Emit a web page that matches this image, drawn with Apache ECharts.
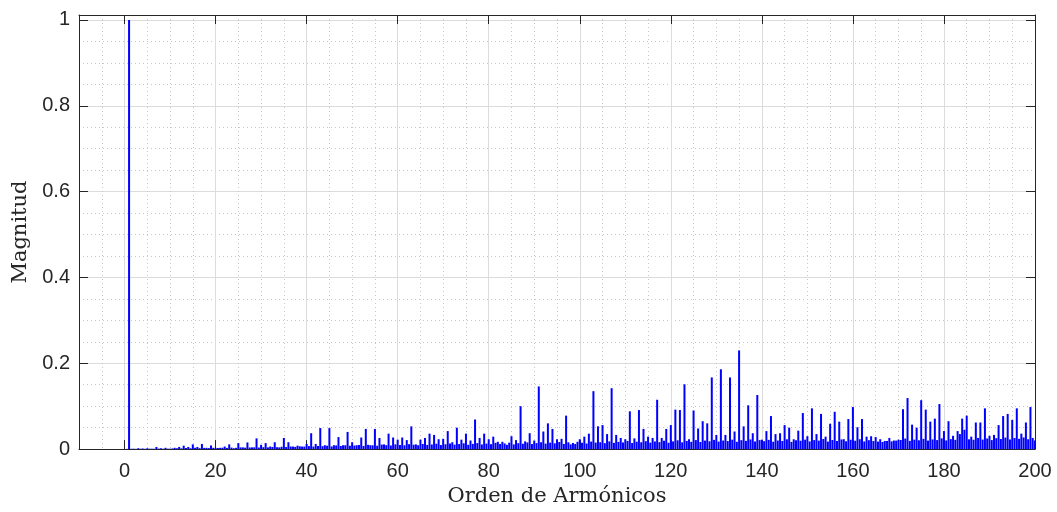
<!DOCTYPE html>
<html>
<head>
<meta charset="utf-8">
<script src="https://cdn.jsdelivr.net/npm/echarts@6/dist/echarts.min.js"></script>
<style>
html,body{margin:0;padding:0;background:#fff;}
#chart{width:1057px;height:512px;}
</style>
</head>
<body>
<div id="chart"></div>
<script>
// Magnitude at integer harmonic orders 0..200
const harmonicMag = [
 0, 1.0, 0.001, 0.002, 0.0015, 0.002, 0.001, 0.005, 0.002, 0.003,
 0.001, 0.003, 0.005, 0.008, 0.005, 0.011, 0.005, 0.012, 0.003, 0.0085,
 0.003, 0.003, 0.006, 0.011, 0.002, 0.014, 0.004, 0.0155, 0.004, 0.025,
 0.010, 0.014, 0.006, 0.016, 0.004, 0.026, 0.016, 0.006, 0.008, 0.006,
 0.012, 0.037, 0.012, 0.049, 0.009, 0.049, 0.009, 0.028, 0.009, 0.040,
 0.016, 0.009, 0.027, 0.047, 0.009, 0.047, 0.026, 0.011, 0.036, 0.027,
 0.022, 0.027, 0.021, 0.053, 0.011, 0.022, 0.026, 0.036, 0.033, 0.023,
 0.024, 0.042, 0.016, 0.050, 0.022, 0.036, 0.020, 0.069, 0.026, 0.036,
 0.023, 0.029, 0.017, 0.017, 0.010, 0.030, 0.021, 0.100, 0.018, 0.037,
 0.020, 0.146, 0.041, 0.060, 0.047, 0.023, 0.024, 0.078, 0.011, 0.012,
 0.023, 0.029, 0.036, 0.135, 0.053, 0.056, 0.035, 0.142, 0.033, 0.026,
 0.023, 0.088, 0.025, 0.091, 0.047, 0.029, 0.026, 0.115, 0.026, 0.047,
 0.056, 0.092, 0.091, 0.151, 0.023, 0.090, 0.048, 0.065, 0.060, 0.167,
 0.033, 0.186, 0.033, 0.167, 0.041, 0.230, 0.053, 0.102, 0.037, 0.126,
 0.022, 0.042, 0.077, 0.035, 0.037, 0.056, 0.050, 0.023, 0.043, 0.084,
 0.030, 0.095, 0.035, 0.082, 0.029, 0.059, 0.087, 0.064, 0.023, 0.070,
 0.098, 0.051, 0.070, 0.029, 0.030, 0.028, 0.023, 0.019, 0.026, 0.020,
 0.022, 0.093, 0.119, 0.057, 0.050, 0.114, 0.092, 0.064, 0.071, 0.105,
 0.042, 0.065, 0.031, 0.042, 0.071, 0.078, 0.029, 0.062, 0.062, 0.095,
 0.031, 0.033, 0.056, 0.077, 0.082, 0.068, 0.095, 0.036, 0.062, 0.098,
 0.020
];
// Magnitude of inter-harmonic content at orders 0.5, 1.5, ..., 199.5
const interMag = [
 0.0005,0.0008,0.0006,0.0009,0.0007,0.001,0.0008,0.0012,0.0009,0.0011,
 0.0015,0.002,0.0018,0.0025,0.002,0.003,0.0022,0.0028,0.0024,0.003,
 0.0026,0.0032,0.0028,0.0035,0.003,0.004,0.0034,0.0038,0.0042,0.0036,
 0.0045,0.004,0.005,0.0044,0.0055,0.0048,0.006,0.0052,0.0065,0.0058,
 0.007,0.006,0.0075,0.0068,0.008,0.0062,0.0085,0.0072,0.009,0.0078,
 0.0082,0.0095,0.0074,0.01,0.0088,0.0079,0.0105,0.0092,0.0084,0.011,
 0.0096,0.0088,0.0115,0.0102,0.009,0.012,0.0098,0.0108,0.0125,0.0094,
 0.0112,0.013,0.0104,0.0118,0.0135,0.01,0.0122,0.014,0.0108,0.0128,
 0.0115,0.0145,0.012,0.0132,0.015,0.011,0.0138,0.0125,0.0155,0.0118,
 0.014,0.016,0.0128,0.015,0.0135,0.0165,0.012,0.0158,0.0142,0.017,
 0.0148,0.013,0.0175,0.0152,0.016,0.0138,0.018,0.0145,0.0168,0.0155,
 0.019,0.0142,0.0172,0.016,0.0185,0.015,0.0178,0.0162,0.0195,0.0148,
 0.018,0.0205,0.0158,0.019,0.017,0.021,0.0165,0.0198,0.0182,0.0215,
 0.0175,0.02,0.0188,0.022,0.017,0.0208,0.0192,0.0225,0.0178,0.021,
 0.0185,0.0215,0.0172,0.02,0.019,0.0228,0.0168,0.0205,0.0195,0.022,
 0.018,0.021,0.0198,0.0235,0.0175,0.0212,0.019,0.0225,0.0182,0.0218,
 0.0195,0.023,0.0178,0.0208,0.0188,0.0175,0.0165,0.019,0.018,0.0198,
 0.0212,0.0245,0.0192,0.022,0.0205,0.0238,0.0198,0.0225,0.021,0.025,
 0.0202,0.0232,0.0215,0.035,0.045,0.0228,0.0218,0.026,0.0222,0.0248,
 0.021,0.0255,0.0235,0.0268,0.0225,0.0258,0.024,0.0272,0.023,0.026
];
const xTickValues = [0, 20, 40, 60, 80, 100, 120, 140, 160, 180, 200];
const yTickValues = [0, 0.2, 0.4, 0.6, 0.8, 1];
const xLabel = 'Orden de Armónicos';
const yLabel = 'Magnitud';

const data = [];
harmonicMag.forEach((v, i) => data.push([i, v]));
interMag.forEach((v, i) => data.push([i + 0.5, v]));

const AX = '#262626';
const MAJ = '#dcdcdc';
const MIN = '#c8c8c8';
const T = 'rgba(0,0,0,0)';
const X_MIN = -10, X_MAX = 200, Y_MIN = 0, Y_MAX = 1.0116;
const tickFont = {fontFamily: '"Liberation Sans", Arial, sans-serif', fontSize: 20, color: AX};

function xAxisBase(extra) {
  return Object.assign({type: 'value', min: X_MIN, max: X_MAX, interval: 5, gridIndex: 0,
    axisLine: {show: false}, axisTick: {show: false}, axisLabel: {show: false}, splitLine: {show: false}}, extra);
}
function yAxisBase(extra) {
  return Object.assign({type: 'value', min: Y_MIN, max: Y_MAX, interval: 0.05, gridIndex: 0,
    axisLine: {show: false}, axisTick: {show: false}, axisLabel: {show: false}, splitLine: {show: false}}, extra);
}

const chart = echarts.init(document.getElementById('chart'), null, {renderer: 'canvas'});
chart.setOption({
  animation: false,
  backgroundColor: '#fff',
  grid: {left: 79, right: 22, top: 15, bottom: 62, containLabel: false},
  xAxis: [
    xAxisBase({position: 'bottom',
      axisLine: {show: true, onZero: false, lineStyle: {color: AX, width: 1}},
      axisTick: {show: true, inside: true, length: 9, customValues: xTickValues, lineStyle: {color: AX}},
      axisLabel: Object.assign({show: true, margin: 12, customValues: xTickValues,
        formatter: v => String(v)}, tickFont),
      name: xLabel, nameLocation: 'middle', nameGap: 35,
      nameTextStyle: {fontFamily: '"DejaVu Serif", serif', fontSize: 21, color: AX}
    }),
    xAxisBase({position: 'top',
      axisLine: {show: true, onZero: false, lineStyle: {color: AX, width: 1}},
      axisTick: {show: true, inside: true, length: 9, customValues: xTickValues, lineStyle: {color: AX}}
    }),
    xAxisBase({position: 'bottom',
      splitLine: {show: true, lineStyle: {type: [1, 3], color: [MIN, MIN, T, MIN], width: 1}}}),
    xAxisBase({position: 'bottom',
      splitLine: {show: true, lineStyle: {type: 'solid', color: [T, T, MAJ, T], width: 1}}})
  ],
  yAxis: [
    yAxisBase({position: 'left', interval: 0.2,
      axisLine: {show: true, onZero: false, lineStyle: {color: AX, width: 1}},
      axisTick: {show: true, inside: true, length: 9, customValues: yTickValues, lineStyle: {color: AX}},
      axisLabel: Object.assign({show: true, margin: 9, customValues: yTickValues,
        formatter: v => String(Math.round(v * 10) / 10)}, tickFont),
      name: yLabel, nameLocation: 'middle', nameGap: 46,
      nameTextStyle: {fontFamily: '"DejaVu Serif", serif', fontSize: 21, color: AX}
    }),
    yAxisBase({position: 'right', interval: 0.2,
      axisLine: {show: true, onZero: false, lineStyle: {color: AX, width: 1}},
      axisTick: {show: true, inside: true, length: 9, customValues: yTickValues, lineStyle: {color: AX}}
    }),
    yAxisBase({position: 'left',
      splitLine: {show: true, lineStyle: {type: [1, 3], color: [T, MIN, MIN, MIN], width: 1}}}),
    yAxisBase({position: 'left',
      splitLine: {show: true, lineStyle: {type: 'solid', color: [MAJ, T, T, T], width: 1}}})
  ],
  series: [{
    type: 'bar',
    xAxisIndex: 0,
    yAxisIndex: 0,
    data: data,
    barWidth: 2,
    itemStyle: {color: '#0000ff'},
    emphasis: {disabled: true},
    z: 3
  }]
});
</script>
</body>
</html>
